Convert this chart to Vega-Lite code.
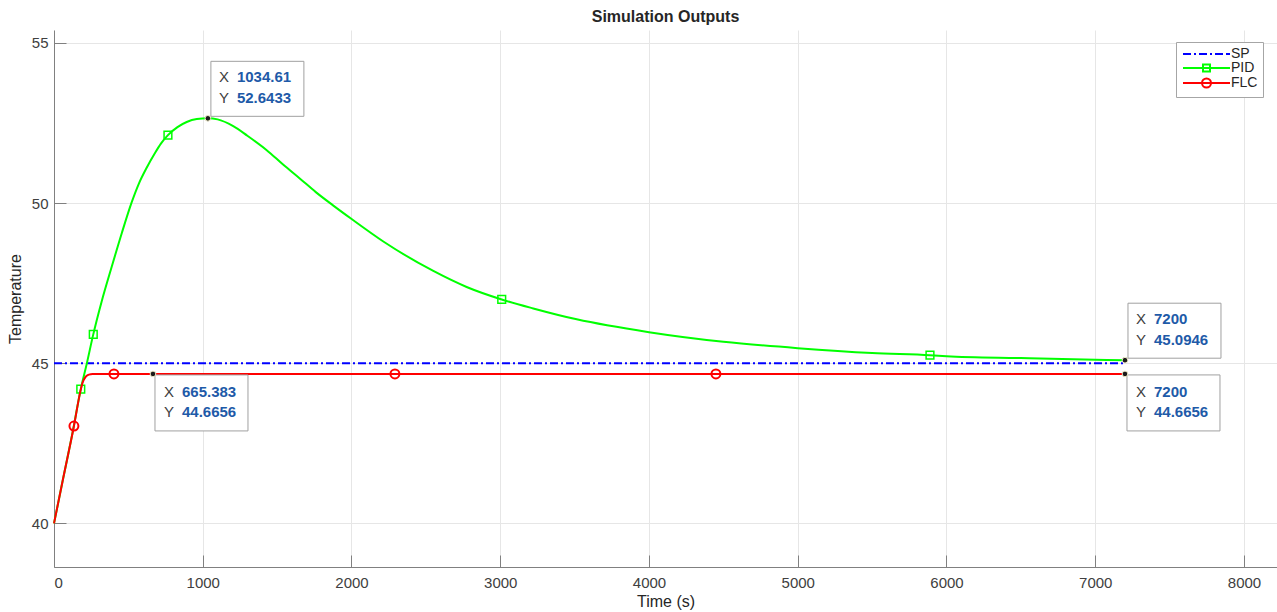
{
  "$schema": "https://vega.github.io/schema/vega-lite/v6.json",
  "width": 1223,
  "height": 537,
  "autosize": {"type": "none"},
  "padding": {"left": 54, "top": 30, "right": 0, "bottom": 45},
  "background": "white",
  "title": {"text": "Simulation Outputs", "fontSize": 16, "fontWeight": "bold", "color": "#262626", "offset": 5, "anchor": "middle", "font": "Liberation Sans"},
  "config": {
    "font": "Liberation Sans",
    "view": {"stroke": null},
    "axis": {
      "grid": true,
      "gridColor": "#e6e6e6",
      "domainColor": "#808080",
      "tickColor": "#808080",
      "tickSize": -12,
      "labelFontSize": 15,
      "labelColor": "#404040",
      "titleFontSize": 16,
      "titleColor": "#262626",
      "titleFontWeight": "normal",
      "labelFont": "Liberation Sans",
      "titleFont": "Liberation Sans"
    },
    "legend": {
      "orient": "none",
      "legendX": 1122,
      "legendY": 12,
      "strokeColor": "#a6a6a6",
      "fillColor": "white",
      "padding": 5,
      "symbolSize": 100,
      "symbolStrokeWidth": 2,
      "labelFontSize": 14,
      "labelColor": "#262626",
      "labelOffset": 36,
      "rowPadding": -3,
      "title": null
    }
  },
  "resolve": {"legend": {"color": "independent"}},
  "datasets": {
    "curves": [
      {"series": "SP", "t": 0, "temp": 45},
      {"series": "SP", "t": 7200, "temp": 45},
      {"series": "PID", "t": 0, "temp": 40},
      {"series": "PID", "t": 60, "temp": 41.37},
      {"series": "PID", "t": 120, "temp": 42.72},
      {"series": "PID", "t": 180, "temp": 44.19},
      {"series": "PID", "t": 220, "temp": 44.98},
      {"series": "PID", "t": 264, "temp": 45.9},
      {"series": "PID", "t": 320, "temp": 46.92},
      {"series": "PID", "t": 388, "temp": 48.01},
      {"series": "PID", "t": 455, "temp": 49.05},
      {"series": "PID", "t": 522, "temp": 50.02},
      {"series": "PID", "t": 570, "temp": 50.6},
      {"series": "PID", "t": 623, "temp": 51.1},
      {"series": "PID", "t": 679, "temp": 51.56},
      {"series": "PID", "t": 720, "temp": 51.86},
      {"series": "PID", "t": 766, "temp": 52.12},
      {"series": "PID", "t": 830, "temp": 52.37},
      {"series": "PID", "t": 892, "temp": 52.53},
      {"series": "PID", "t": 960, "temp": 52.62},
      {"series": "PID", "t": 1034.61, "temp": 52.6433},
      {"series": "PID", "t": 1100, "temp": 52.61},
      {"series": "PID", "t": 1205, "temp": 52.4},
      {"series": "PID", "t": 1300, "temp": 52.1},
      {"series": "PID", "t": 1430, "temp": 51.65},
      {"series": "PID", "t": 1540, "temp": 51.2},
      {"series": "PID", "t": 1654, "temp": 50.76},
      {"series": "PID", "t": 1760, "temp": 50.34},
      {"series": "PID", "t": 1878, "temp": 49.92},
      {"series": "PID", "t": 2001, "temp": 49.5},
      {"series": "PID", "t": 2214, "temp": 48.8},
      {"series": "PID", "t": 2550, "temp": 47.88},
      {"series": "PID", "t": 2774, "temp": 47.38},
      {"series": "PID", "t": 3010, "temp": 46.99},
      {"series": "PID", "t": 3222, "temp": 46.71},
      {"series": "PID", "t": 3514, "temp": 46.37},
      {"series": "PID", "t": 4000, "temp": 45.97},
      {"series": "PID", "t": 4500, "temp": 45.67},
      {"series": "PID", "t": 5000, "temp": 45.47},
      {"series": "PID", "t": 5500, "temp": 45.32},
      {"series": "PID", "t": 5889, "temp": 45.25},
      {"series": "PID", "t": 6000, "temp": 45.22},
      {"series": "PID", "t": 6500, "temp": 45.16},
      {"series": "PID", "t": 7000, "temp": 45.11},
      {"series": "PID", "t": 7200, "temp": 45.0946},
      {"series": "FLC", "t": 0, "temp": 40},
      {"series": "FLC", "t": 60, "temp": 41.37},
      {"series": "FLC", "t": 134, "temp": 43.04},
      {"series": "FLC", "t": 179, "temp": 44.16},
      {"series": "FLC", "t": 190, "temp": 44.36},
      {"series": "FLC", "t": 200, "temp": 44.48},
      {"series": "FLC", "t": 210, "temp": 44.56},
      {"series": "FLC", "t": 220, "temp": 44.61},
      {"series": "FLC", "t": 235, "temp": 44.645},
      {"series": "FLC", "t": 260, "temp": 44.662},
      {"series": "FLC", "t": 300, "temp": 44.6656},
      {"series": "FLC", "t": 665.383, "temp": 44.6656},
      {"series": "FLC", "t": 7200, "temp": 44.6656}
    ],
    "markers": [
      {"series": "PID", "t": 180, "temp": 44.19},
      {"series": "PID", "t": 264, "temp": 45.9},
      {"series": "PID", "t": 766, "temp": 52.12},
      {"series": "PID", "t": 3010, "temp": 46.99},
      {"series": "PID", "t": 5889, "temp": 45.25},
      {"series": "FLC", "t": 134, "temp": 43.04},
      {"series": "FLC", "t": 403, "temp": 44.6656},
      {"series": "FLC", "t": 2292, "temp": 44.6656},
      {"series": "FLC", "t": 4450, "temp": 44.6656}
    ],
    "tips": [
      {"series": "PID", "t": 1034.61, "temp": 52.6433},
      {"series": "FLC", "t": 665.383, "temp": 44.6656},
      {"series": "PID", "t": 7200, "temp": 45.0946},
      {"series": "FLC", "t": 7200, "temp": 44.6656}
    ]
  },
  "encoding": {
    "x": {"field": "t", "type": "quantitative", "scale": {"domain": [0, 8222], "nice": false, "zero": false},
      "axis": {"title": "Time (s)", "values": [0, 1000, 2000, 3000, 4000, 5000, 6000, 7000, 8000], "format": "d", "labelPadding": 20, "titlePadding": 3}},
    "y": {"field": "temp", "type": "quantitative", "scale": {"domain": [38.64, 55.4], "nice": false, "zero": false},
      "axis": {"title": "Temperature", "values": [40, 45, 50, 55], "format": "d", "labelPadding": 18, "titlePadding": 8}}
  },
  "layer": [
    {
      "data": {"name": "curves"},
      "transform": [{"filter": "datum.series == 'SP'"}],
      "mark": {"type": "line", "strokeWidth": 2, "strokeDash": [8, 3, 2, 3]},
      "encoding": {"color": {"field": "series", "type": "nominal", "scale": {"domain": ["SP", "PID", "FLC"], "range": ["#0000ff", "#00ff00", "#ff0000"]}, "legend": null}}
    },
    {
      "data": {"name": "curves"},
      "transform": [{"filter": "datum.series == 'PID'"}],
      "mark": {"type": "line", "strokeWidth": 2, "interpolate": "monotone"},
      "encoding": {"color": {"field": "series", "type": "nominal", "legend": null}}
    },
    {
      "data": {"name": "markers"},
      "transform": [{"filter": "datum.series == 'PID'"}],
      "mark": {"type": "point", "shape": "square", "filled": false, "size": 60, "strokeWidth": 1.5, "opacity": 1},
      "encoding": {"color": {"field": "series", "type": "nominal", "legend": null}}
    },
    {
      "data": {"name": "curves"},
      "transform": [{"filter": "datum.series == 'FLC'"}],
      "mark": {"type": "line", "strokeWidth": 2, "interpolate": "monotone"},
      "encoding": {"color": {"field": "series", "type": "nominal", "legend": null}}
    },
    {
      "data": {"name": "markers"},
      "transform": [{"filter": "datum.series == 'FLC'"}],
      "mark": {"type": "point", "shape": "circle", "filled": false, "size": 80, "strokeWidth": 2, "opacity": 1},
      "encoding": {"color": {"field": "series", "type": "nominal",
        "legend": {"symbolType": {"expr": "datum.value === 'SP' ? 'M-1,0H0.6M1.2,0H1.6M2.2,0H3.8M4.4,0H4.8M5.4,0H7M7.6,0H8.4' : datum.value === 'PID' ? 'M-1,0H8.4M3,-0.7H4.4V0.7H3Z' : 'M-1,0H8.4M2.8,0A0.9,0.9 0 1,0 4.6,0A0.9,0.9 0 1,0 2.8,0'"}}}}
    },
    {
      "data": {"name": "tips"},
      "transform": [{"filter": "datum.series == 'PID'"}],
      "mark": {"type": "rect", "fill": "white", "stroke": "#a0a0a0", "strokeWidth": 1, "xOffset": 3, "x2Offset": 96, "yOffset": -57, "y2Offset": -2},
      "encoding": {"x2": {"field": "t"}, "y2": {"field": "temp"}}
    },
    {
      "data": {"name": "tips"},
      "transform": [{"filter": "datum.series == 'FLC'"}],
      "mark": {"type": "rect", "fill": "white", "stroke": "#a0a0a0", "strokeWidth": 1, "xOffset": 2, "x2Offset": 95, "yOffset": 1, "y2Offset": 57},
      "encoding": {"x2": {"field": "t"}, "y2": {"field": "temp"}}
    },
    {
      "data": {"name": "tips"},
      "transform": [{"filter": "datum.series == 'PID'"}],
      "mark": {"type": "text", "text": "X", "dx": 16, "dy": -41, "align": "center", "baseline": "middle", "fontSize": 15, "color": "#404040"}
    },
    {
      "data": {"name": "tips"},
      "transform": [{"filter": "datum.series == 'PID'"}],
      "mark": {"type": "text", "text": "Y", "dx": 16, "dy": -20, "align": "center", "baseline": "middle", "fontSize": 15, "color": "#404040"}
    },
    {
      "data": {"name": "tips"},
      "transform": [{"filter": "datum.series == 'PID'"}],
      "mark": {"type": "text", "dx": 29, "dy": -41, "align": "left", "baseline": "middle", "fontSize": 15, "fontWeight": "bold", "color": "#1e5aa8"},
      "encoding": {"text": {"field": "t", "type": "quantitative", "format": ".6~g"}}
    },
    {
      "data": {"name": "tips"},
      "transform": [{"filter": "datum.series == 'PID'"}],
      "mark": {"type": "text", "dx": 29, "dy": -20, "align": "left", "baseline": "middle", "fontSize": 15, "fontWeight": "bold", "color": "#1e5aa8"},
      "encoding": {"text": {"field": "temp", "type": "quantitative", "format": ".6~g"}}
    },
    {
      "data": {"name": "tips"},
      "transform": [{"filter": "datum.series == 'FLC'"}],
      "mark": {"type": "text", "text": "X", "dx": 16, "dy": 18, "align": "center", "baseline": "middle", "fontSize": 15, "color": "#404040"}
    },
    {
      "data": {"name": "tips"},
      "transform": [{"filter": "datum.series == 'FLC'"}],
      "mark": {"type": "text", "text": "Y", "dx": 16, "dy": 38, "align": "center", "baseline": "middle", "fontSize": 15, "color": "#404040"}
    },
    {
      "data": {"name": "tips"},
      "transform": [{"filter": "datum.series == 'FLC'"}],
      "mark": {"type": "text", "dx": 29, "dy": 18, "align": "left", "baseline": "middle", "fontSize": 15, "fontWeight": "bold", "color": "#1e5aa8"},
      "encoding": {"text": {"field": "t", "type": "quantitative", "format": ".6~g"}}
    },
    {
      "data": {"name": "tips"},
      "transform": [{"filter": "datum.series == 'FLC'"}],
      "mark": {"type": "text", "dx": 29, "dy": 38, "align": "left", "baseline": "middle", "fontSize": 15, "fontWeight": "bold", "color": "#1e5aa8"},
      "encoding": {"text": {"field": "temp", "type": "quantitative", "format": ".6~g"}}
    },
    {
      "data": {"name": "tips"},
      "mark": {"type": "point", "shape": "circle", "filled": true, "fill": "#1a1a1a", "stroke": "#f2eecb", "strokeWidth": 1, "size": 32, "opacity": 1}
    }
  ]
}
